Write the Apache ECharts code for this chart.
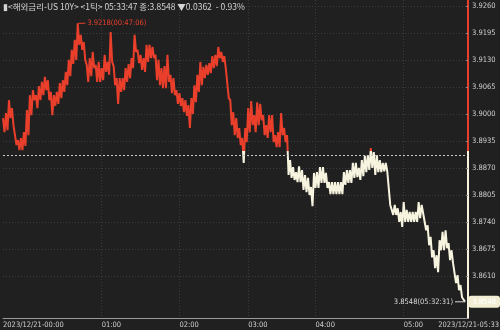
<!DOCTYPE html>
<html><head><meta charset="utf-8">
<script src="https://cdn.jsdelivr.net/npm/echarts@6/dist/echarts.min.js"></script>
<style>html,body{margin:0;padding:0;background:#202020;}#c{width:500px;height:330px;}</style>
</head><body><div id="c"></div>
<script>
// per-column high / low of the tick series (US 10Y yield, 2023/12/21)
const highs = [
3.8990,3.9002,3.9033,3.9014,3.8973,3.8937,3.8942,3.8956,3.9009,3.9045,
3.9057,3.9045,3.9067,3.9077,3.9089,3.9081,3.9053,3.9045,3.9053,3.9074,
3.9081,3.9101,3.9130,3.9154,3.9178,3.9218,3.9190,3.9173,3.9118,3.9134,
3.9149,3.9118,3.9125,3.9110,3.9142,3.9125,3.9197,3.9115,3.9086,3.9086,
3.9086,3.9110,3.9120,3.9134,3.9190,3.9154,3.9142,3.9134,3.9166,3.9166,
3.9161,3.9142,3.9130,3.9110,3.9115,3.9142,3.9094,3.9086,3.9057,3.9050,
3.9038,3.9033,3.9021,3.9038,3.9069,3.9094,3.9125,3.9113,3.9118,3.9122,
3.9139,3.9142,3.9161,3.9149,3.9139,3.9106,3.9033,3.9004,3.8990,3.8966,
3.8942,3.8966,3.9014,3.9031,3.8997,3.9028,3.9024,3.8997,3.8973,3.8997,
3.8997,3.8949,3.8956,3.9002,3.8966,3.8949,3.8889,3.8872,3.8860,3.8874,
3.8865,3.8853,3.8846,3.8824,3.8858,3.8860,3.8872,3.8872,3.8858,3.8836,
3.8836,3.8836,3.8836,3.8836,3.8860,3.8865,3.8865,3.8882,3.8882,3.8870,
3.8889,3.8899,3.8901,3.8918,3.8908,3.8901,3.8889,3.8882,3.8882,3.8865,
3.8781,3.8781,3.8773,3.8764,3.8788,3.8769,3.8764,3.8764,3.8764,3.8788,
3.8781,3.8761,3.8732,3.8704,3.8672,3.8660,3.8696,3.8716,3.8720,3.8689,
3.8672,3.8641,3.8612,3.8588,3.8562
];
const lows = [
3.8956,3.8961,3.8990,3.8973,3.8925,3.8913,3.8913,3.8923,3.8949,3.8997,
3.9033,3.9014,3.9033,3.9045,3.9057,3.9033,3.8997,3.9019,3.9024,3.9038,
3.9053,3.9069,3.9091,3.9120,3.9130,3.9166,3.9154,3.9130,3.9077,3.9091,
3.9110,3.9077,3.9077,3.9081,3.9101,3.9094,3.9125,3.9069,3.9024,3.9053,
3.9057,3.9077,3.9086,3.9110,3.9149,3.9122,3.9106,3.9101,3.9125,3.9134,
3.9134,3.9081,3.9069,3.9062,3.9062,3.9077,3.9050,3.9045,3.9024,3.9019,
3.9004,3.8995,3.8966,3.9000,3.9028,3.9053,3.9069,3.9086,3.9094,3.9098,
3.9110,3.9115,3.9134,3.9125,3.9110,3.9038,3.8973,3.8949,3.8942,3.8925,
3.8882,3.8932,3.8956,3.8973,3.8956,3.8973,3.8985,3.8949,3.8942,3.8956,
3.8932,3.8920,3.8920,3.8949,3.8932,3.8853,3.8846,3.8841,3.8836,3.8836,
3.8817,3.8812,3.8805,3.8778,3.8822,3.8822,3.8834,3.8834,3.8822,3.8807,
3.8807,3.8807,3.8807,3.8807,3.8829,3.8834,3.8834,3.8846,3.8848,3.8841,
3.8850,3.8860,3.8865,3.8870,3.8853,3.8860,3.8860,3.8862,3.8862,3.8781,
3.8757,3.8757,3.8740,3.8728,3.8740,3.8740,3.8740,3.8740,3.8740,3.8749,
3.8761,3.8720,3.8684,3.8655,3.8629,3.8619,3.8672,3.8672,3.8677,3.8648,
3.8641,3.8593,3.8576,3.8559,3.8548
];
const prevClose = 3.8910;
const lastPrice = 3.8548;
const change = 0.0362;
const changePct = 0.93;
const lastTime = '05:33:47';
const peakTime = '00:47:06';
const lowTime = '05:32:31';
const yTicks = [3.8610,3.8675,3.8740,3.8805,3.8870,3.8935,3.9000,3.9065,3.9130,3.9195,3.9260];
const yMin = 3.8509, yMax = 3.9274;
const hourTickIndex = [0, 66, 118, 164, 209, 268];
const hourTickLabels = ['2023/12/21-00:00','01:00','02:00','03:00','04:00','05:00'];
const endLabel = '2023/12/21-05:33';
const slotCount = 312;

const RED = '#ea3f2b', CREAM = '#f6f3de';
const NARROW = "'Liberation Sans Narrow','Arial Narrow','DejaVu Sans Condensed',sans-serif";
const FS = 7.5;

const values = [];
for (let k = 0; k < highs.length; k++) { values.push(highs[k], lows[k]); }
while (values.length < slotCount) values.push('-');
const cats = values.map((_, i) => String(i));
const labelMap = {};
hourTickIndex.forEach((idx, j) => { labelMap[String(idx)] = hourTickLabels[j]; });

const frac = (yMax - prevClose) / (yMax - yMin);
const axisGrad = new echarts.graphic.LinearGradient(0, 0, 0, 1, [
  {offset: 0, color: RED}, {offset: frac, color: RED},
  {offset: frac, color: CREAM}, {offset: 1, color: CREAM}
]);

const headerText = '▮<해외금리-US 10Y> <1틱> ' + lastTime + ' 종:' + lastPrice.toFixed(4) +
  ' ▼' + change.toFixed(4) + '  - ' + changePct.toFixed(2) + '%';

const chart = echarts.init(document.getElementById('c'), null, {renderer: 'canvas'});
chart.setOption({
  backgroundColor: '#202020',
  animation: false,
  title: [
    {text: headerText, left: 3, top: 3, padding: 0, textStyle: {color: '#d4d4d4', fontSize: 8.5, fontWeight: 'normal', fontFamily: "'Noto Sans CJK KR',sans-serif"}},
    {text: endLabel, right: 1, bottom: 1, padding: 0, textStyle: {color: '#cfcfcf', fontSize: FS, fontWeight: 'normal', fontFamily: NARROW}}
  ],
  grid: {left: 0, right: 32, top: 0, bottom: 12},
  xAxis: {
    type: 'category', data: cats, boundaryGap: false,
    axisLine: {lineStyle: {color: '#9a9a9a', width: 1}},
    axisTick: {show: false},
    axisLabel: {
      interval: (i) => hourTickIndex.includes(i),
      formatter: (v) => labelMap[v] || '',
      align: 'left', color: '#cfcfcf', fontSize: FS, margin: 3, fontFamily: NARROW
    },
    splitLine: {show: true, interval: (i) => i > 0 && hourTickIndex.includes(i), lineStyle: {color: '#3c3c3c', type: [1, 2]}}
  },
  yAxis: {
    type: 'value', position: 'right', min: yMin, max: yMax, scale: true,
    axisLine: {show: true, lineStyle: {width: 2, color: axisGrad}},
    axisTick: {show: true, inside: true, length: 2, customValues: yTicks, lineStyle: {color: '#8a8a8a'}},
    axisLabel: {customValues: yTicks, formatter: (v) => v.toFixed(4), color: '#cfcfcf', fontSize: FS, margin: 4, fontFamily: NARROW},
    splitLine: {show: true, lineStyle: {color: '#3c3c3c', type: [1, 2]}},
    axisPointer: {
      show: true, status: 'show', value: lastPrice, triggerTooltip: false, type: 'line',
      lineStyle: {opacity: 0},
      label: {show: true, formatter: (p) => Number(p.value).toFixed(4), backgroundColor: '#f2eed3', color: '#ffffff',
              fontSize: FS, padding: [2, 4, 2, 4], margin: 2, fontFamily: NARROW}
    }
  },
  visualMap: {
    show: false, seriesIndex: 0, dimension: 1,
    pieces: [{gt: prevClose, lte: 5, color: RED}, {gt: 3, lte: prevClose, color: CREAM}],
    outOfRange: {color: CREAM}
  },
  series: [{
    type: 'line', data: values, showSymbol: false, connectNulls: false,
    lineStyle: {width: 2, join: 'bevel'},
    markLine: {
      silent: true, symbol: ['none', 'none'],
      data: [{yAxis: prevClose}],
      lineStyle: {color: '#c8c8c8', type: [2, 2], width: 1},
      label: {show: false}
    },
    markPoint: {
      silent: true,
      data: [
        {type: 'max', symbol: 'rect', symbolSize: [7, 1], symbolOffset: [4, 0],
         itemStyle: {color: RED},
         label: {show: true, position: 'right', distance: 2, color: RED, fontSize: FS, fontFamily: NARROW,
                 formatter: (p) => Number(p.value).toFixed(4) + '(' + peakTime + ')'}},
        {type: 'min', symbol: 'rect', symbolSize: [10, 1], symbolOffset: [-5, 0],
         itemStyle: {color: '#d8d8d8'},
         label: {show: true, position: 'left', distance: 2, color: '#d8d8d8', fontSize: FS, fontFamily: NARROW,
                 formatter: (p) => Number(p.value).toFixed(4) + '(' + lowTime + ')'}}
      ]
    }
  }]
});
</script></body></html>
